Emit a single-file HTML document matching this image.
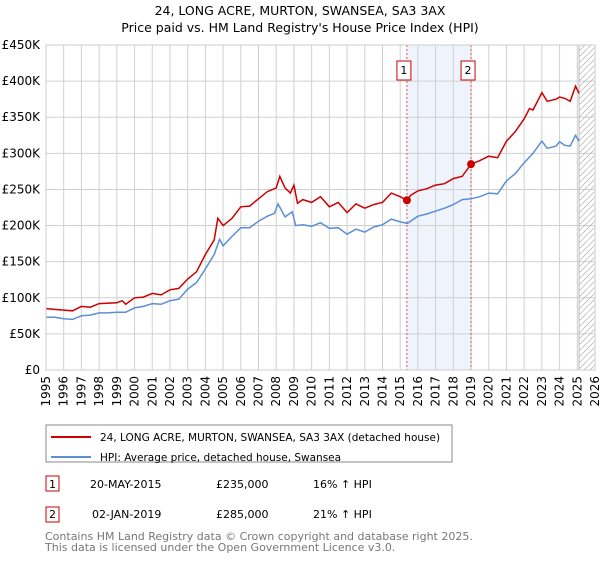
<!DOCTYPE html>
<html><head><meta charset="utf-8"><style>
body{margin:0;background:#fff;font-family:"Liberation Sans","DejaVu Sans",sans-serif;}
svg text{font-family:"DejaVu Sans","Liberation Sans",sans-serif;}
</style></head><body>
<svg id="c" width="600" height="560" xmlns="http://www.w3.org/2000/svg">
<text x="300" y="15" text-anchor="middle" font-size="12.5">24, LONG ACRE, MURTON, SWANSEA, SA3 3AX</text>
<text x="300" y="32" text-anchor="middle" font-size="12.5">Price paid vs. HM Land Registry's House Price Index (HPI)</text>
<g id="plot"></g>
<g>
<rect x="46" y="425" width="406" height="37" fill="#fff" stroke="#888"/>
<line x1="51" y1="437" x2="91" y2="437" stroke="#cc0000" stroke-width="2"/>
<text x="100" y="441" font-size="10.5">24, LONG ACRE, MURTON, SWANSEA, SA3 3AX (detached house)</text>
<line x1="51" y1="457" x2="91" y2="457" stroke="#5b8fd4" stroke-width="2"/>
<text x="100" y="461" font-size="10.5">HPI: Average price, detached house, Swansea</text>
</g>
<g font-size="11">
<rect x="46" y="476" width="13" height="15" fill="#fff" stroke="#cc0000"/>
<text x="52.5" y="488" text-anchor="middle">1</text>
<text x="90" y="488">20-MAY-2015</text><text x="216" y="488">£235,000</text><text x="313" y="488">16% ↑ HPI</text>
<rect x="46" y="507" width="13" height="15" fill="#fff" stroke="#cc0000"/>
<text x="52.5" y="518" text-anchor="middle">2</text>
<text x="92" y="518">02-JAN-2019</text><text x="216" y="518">£285,000</text><text x="313" y="518">21% ↑ HPI</text>
</g>
<text x="45" y="540" font-size="11" fill="#777">Contains HM Land Registry data © Crown copyright and database right 2025.</text>
<text x="45" y="551" font-size="11" fill="#777">This data is licensed under the Open Government Licence v3.0.</text>
</svg>
<script>
const hpiYears=[1995,1995.5,1996,1996.5,1997,1997.5,1998,1998.5,1999,1999.5,2000,2000.5,2001,2001.5,2002,2002.5,2003,2003.5,2004,2004.5,2004.8,2005,2005.5,2006,2006.5,2007,2007.5,2007.9,2008.1,2008.5,2008.9,2009.1,2009.5,2010,2010.5,2011,2011.5,2012,2012.5,2013,2013.5,2014,2014.5,2015,2015.4,2016,2016.5,2017,2017.5,2018,2018.5,2019,2019.5,2020,2020.5,2021,2021.5,2022,2022.5,2023,2023.3,2023.8,2024,2024.3,2024.6,2024.9,2025.1];
const hpiValues=[73,73,71,70,75,76,79,79,80,80,86,88,92,91,96,98,112,121,140,160,181,172,185,197,197,206,213,217,230,212,219,200,201,199,204,196,197,188,195,191,198,201,209,205,203,213,216,220,224,229,236,237,240,245,244,262,272,287,300,317,307,310,316,311,310,325,317];
const propYears=[1995,1996,1996.5,1997,1997.5,1998,1999,1999.3,1999.5,2000,2000.5,2001,2001.5,2002,2002.5,2003,2003.5,2004,2004.5,2004.7,2005,2005.5,2006,2006.5,2007,2007.5,2008,2008.2,2008.5,2008.8,2009,2009.2,2009.5,2010,2010.5,2011,2011.5,2012,2012.5,2013,2013.5,2014,2014.5,2015,2015.38,2015.6,2016,2016.5,2017,2017.5,2018,2018.5,2019,2019.5,2020,2020.5,2021,2021.5,2022,2022.3,2022.5,2023,2023.3,2023.8,2024,2024.3,2024.6,2024.9,2025.1];
const propValues=[85,83,82,88,87,92,93,96,91,100,101,106,104,111,113,126,136,160,180,210,200,210,226,227,237,247,252,268,252,245,256,231,236,232,240,226,232,218,230,224,229,232,245,240,235,242,248,251,256,258,265,268,285,290,296,294,317,330,348,362,360,384,372,375,378,376,372,393,383];
const saleYears=[2015.38,2019.0];
const saleValues=[235,285];
const saleLabels=["1","2"];
const yTicks=[0,50,100,150,200,250,300,350,400,450];
const xTicks=[1995,1996,1997,1998,1999,2000,2001,2002,2003,2004,2005,2006,2007,2008,2009,2010,2011,2012,2013,2014,2015,2016,2017,2018,2019,2020,2021,2022,2023,2024,2025,2026];
const X0=46,X1=595,Y0=370,Y1=45;
const xs=y=>X0+(y-1995)/(2026-1995)*(X1-X0);
const ys=v=>Y0-v/450*(Y0-Y1);
const NS="http://www.w3.org/2000/svg";
const g=document.getElementById('plot');
function mk(t,a){const e=document.createElementNS(NS,t);for(const k in a)e.setAttribute(k,a[k]);g.appendChild(e);return e;}
let e;
e=mk('rect',{x:xs(saleYears[0]),y:Y1,width:xs(saleYears[1])-xs(saleYears[0]),height:Y0-Y1,fill:'#eef3fc'});


xTicks.forEach(t=>{
 e=mk('line',{x1:xs(t),x2:xs(t),y1:Y1,y2:Y0,stroke:'#d0d0d0'});
 
 
 e=mk('text',{x:0,y:0,'font-size':'12','text-anchor':'end',transform:`translate(${xs(t)+4},376) rotate(-90)`});
 e.textContent=t;
 
 
});
yTicks.forEach(t=>{
 e=mk('line',{x1:X0,x2:X1,y1:ys(t),y2:ys(t),stroke:'#d0d0d0'});
 
 
 e=mk('text',{x:40,y:ys(t)+4,'font-size':'12','text-anchor':'end'});
 e.textContent=t===0?'£0':'£'+t+'K';
 
 
});
const defs=document.createElementNS(NS,'defs');
defs.innerHTML='<pattern id="h" width="6" height="6" patternUnits="userSpaceOnUse"><path d="M0,6 L6,0" stroke="#bbb" stroke-width="0.8"/></pattern>';
g.appendChild(defs);
e=mk('rect',{x:xs(2025.1),y:Y1,width:X1-xs(2025.1),height:Y0-Y1,fill:'url(#h)',stroke:'#bbb'});


saleYears.forEach((s,i)=>{
 e=mk('line',{x1:xs(s),x2:xs(s),y1:Y1,y2:Y0,stroke:'#e05050','stroke-dasharray':'2,2'});
 
 
});
function path(xa,va,col){
 const d=xa.map((x,i)=>(i?'L':'M')+xs(x).toFixed(1)+','+ys(va[i]).toFixed(1)).join('');
 return mk('path',{d:d,fill:'none',stroke:col,'stroke-width':1.5});
}
e=path(hpiYears,hpiValues,'#5b8fd4');


e=path(propYears,propValues,'#cc0000');


saleYears.forEach((s,i)=>{
 e=mk('circle',{cx:xs(s),cy:ys(saleValues[i]),r:4,fill:'#cc0000'});
 
 
 e=mk('rect',{x:xs(s)-10,y:61,width:14,height:19,fill:'#fff',stroke:'#cc0000'});
 
 
 e=mk('text',{x:xs(s)-3,y:74,'font-size':'11','text-anchor':'middle'});
 e.textContent=saleLabels[i];
 
 
});
e=mk('rect',{x:X0,y:Y1,width:X1-X0,height:Y0-Y1,fill:'none',stroke:'#ccc'});


</script>
</body></html>
